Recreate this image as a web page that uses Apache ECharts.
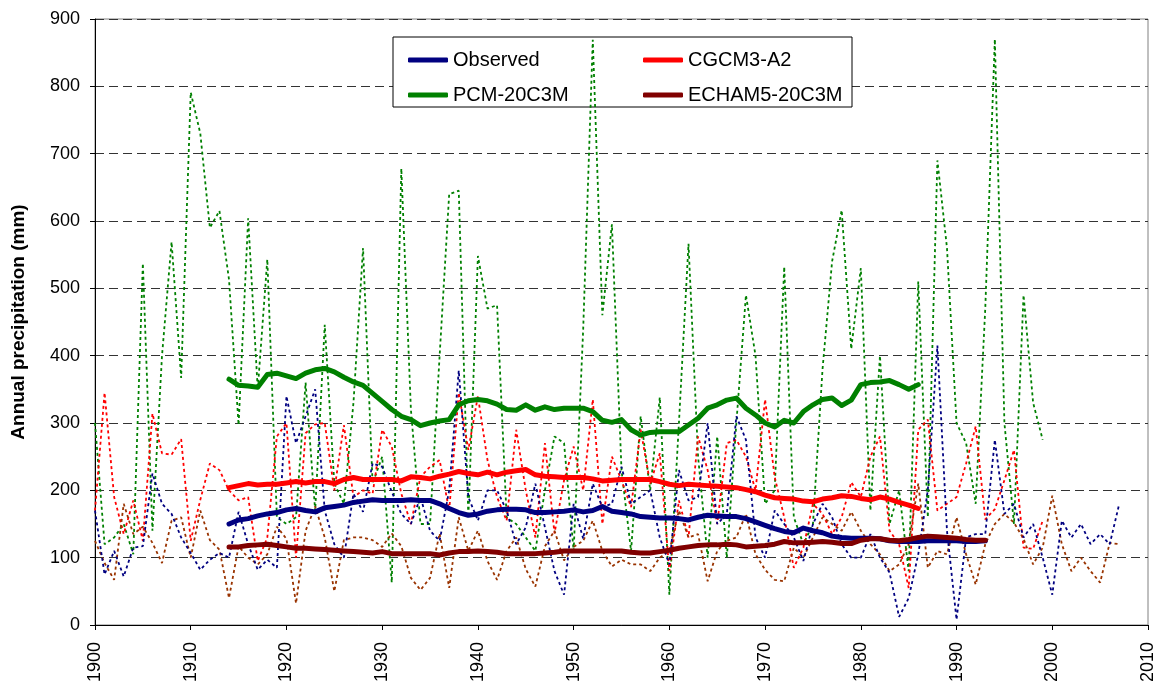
<!DOCTYPE html>
<html>
<head>
<meta charset="utf-8">
<script src="https://cdn.jsdelivr.net/npm/echarts@6/dist/echarts.min.js"></script>
<style>
  html, body { margin: 0; padding: 0; background: #fff; }
  #chart { width: 1163px; height: 693px; }
</style>
</head>
<body>
<div id="chart"></div>
<script>
// annual values, first year 1900
var annualStart = 1900;
var obsAnnual = [
  170, 75, 110, 72, 115, 117, 225, 180, 165, 130,
  107, 82, 97, 107, 100, 168, 120, 82, 97, 85,
  340, 270, 310, 350, 170, 120, 100, 195, 168, 240,
  235, 198, 165, 150, 190, 140, 125, 200, 378, 190,
  155, 200, 200, 170, 120, 145, 210, 145, 80, 45,
  180, 128, 210, 175, 180, 235, 180, 190, 200, 130,
  90, 230, 185, 190, 300, 150, 165, 310, 275, 130,
  100, 170, 150, 130, 95, 150, 180, 160, 120, 100,
  100, 135, 100, 78, 12, 40, 105, 200, 415, 140,
  8, 130, 135, 135, 275, 165, 180, 130, 150, 100,
  45, 155, 130, 150, 120, 135, 120, 180
];
var cgcmAnnual = [
  170, 345, 190, 135, 185, 125, 314, 255, 253, 276,
  125, 186, 240, 230, 200, 185, 190, 95, 130, 280,
  300, 100, 285, 298, 300, 200, 297, 190, 200, 195,
  290, 265, 195, 150, 220, 235, 245, 170, 345, 260,
  340, 245, 190, 155, 290, 200, 130, 270, 136, 215,
  265, 200, 335, 150, 250, 215, 175, 290, 210, 255,
  80, 185, 130, 280, 230, 150, 270, 275, 250, 200,
  335, 220, 160, 85, 115, 180, 165, 135, 160, 212,
  190, 250, 280, 140, 120, 55, 290, 305, 170, 180,
  190, 240, 295, 157, 172, 215, 260, 115, 113, 155
];
var pcmAnnual = [
  300, 120, 130, 150, 105, 537, 140, 400, 569, 367,
  791, 730, 590, 615, 513, 297, 604, 350, 543, 160,
  150, 160, 360, 170, 446, 210, 180, 330, 560, 210,
  250, 63, 678, 320, 150, 150, 400, 640, 645, 160,
  548, 470, 475, 160, 150, 130, 110, 200, 280, 270,
  110, 440, 869, 460, 595, 230, 110, 310, 200, 338,
  45, 300, 566, 250, 100, 280, 100, 300, 490, 400,
  180, 200, 532, 160, 120, 150, 380, 540, 616, 410,
  530, 170, 400, 150, 200, 80, 510, 160, 690, 560,
  300, 270, 180, 470, 870, 300, 150, 490, 330, 275
];
var echamAnnual = [
  125, 92, 67, 180, 135, 146, 122, 92, 155, 160,
  100, 170, 126, 112, 40, 117, 100, 90, 105, 146,
  128, 32, 140, 176, 130, 50, 126, 130, 130, 126,
  116, 136, 117, 70, 52, 70, 136, 55, 160, 110,
  140, 95, 67, 110, 130, 83, 57, 117, 140, 96,
  116, 125, 155, 110, 87, 97, 90, 90, 80, 100,
  110, 170, 130, 135, 65, 110, 125, 130, 165, 105,
  82, 67, 65, 115, 100, 130, 160, 150, 140, 168,
  140, 120, 105, 80, 90, 120, 210, 85, 110, 105,
  160, 105, 60, 120, 150, 165, 152, 128, 90, 115,
  192, 120, 80, 100, 80, 63, 122, 120
];

// smoothed curves, first year 1914
var smoothStart = 1914;
var obsSmooth = [
  150, 156, 158, 162, 165, 167, 171, 173, 170, 168,
  174, 176, 178, 182, 184, 186, 185, 185, 185, 186,
  185, 185, 180, 173, 167, 163, 165, 169, 171, 172,
  172, 171, 167, 167, 168, 169, 171, 168, 170, 176,
  169, 167, 165, 161, 160, 159, 159, 158, 156, 160,
  163, 162, 161, 161, 158, 153, 148, 143, 139, 137,
  144, 140, 137, 132, 130, 129, 129, 129, 128, 125,
  124, 124, 124, 125, 125, 125, 125, 124, 124, 125
];
var cgcmSmooth = [
  204, 207, 210, 208, 209, 209, 211, 213, 211, 213,
  213, 210, 216, 219, 216, 216, 216, 216, 214, 220,
  219, 217, 221, 224, 228, 225, 223, 227, 223, 227,
  229, 231, 223, 221, 220, 219, 219, 219, 217, 214,
  215, 216, 216, 216, 216, 213, 209, 207, 209, 208,
  207, 206, 205, 204, 201, 198, 193, 189, 188, 187,
  184, 183, 187, 189, 192, 191, 188, 186, 190, 187,
  182, 178, 173
];
var pcmSmooth = [
  365, 356, 355, 353, 372, 374, 370, 366, 374, 379,
  381, 376, 368, 361, 356, 344, 332, 320, 310, 305,
  296, 300, 303, 305, 327, 333, 335, 333, 328, 320,
  319, 327, 319, 324, 320, 322, 322, 322, 317, 304,
  301, 305, 290, 282, 286, 287, 287, 287, 297, 307,
  322, 327, 334, 337, 322, 312, 300, 294, 304, 300,
  317, 327, 335, 337, 326, 334, 357, 360, 361, 363,
  357, 350, 357
];
var echamSmooth = [
  116, 116, 118, 119, 120, 118, 116, 114, 114, 113,
  112, 111, 110, 109, 108, 107, 109, 106, 106, 106,
  106, 106, 104, 107, 109, 109, 110, 109, 108, 106,
  106, 106, 106, 107, 108, 110, 110, 110, 110, 110,
  110, 110, 108, 107, 107, 109, 111, 114, 116, 118,
  119, 119, 120, 119, 116, 117, 118, 120, 124, 122,
  122, 123, 124, 123, 121, 121, 126, 128, 128, 126,
  125, 127, 130, 132, 131, 130, 129, 127, 126, 126
];

var font = "'Liberation Sans', Arial, sans-serif";

function pairs(start, vals) {
  return vals.map(function (v, i) { return [start + i, v]; });
}

function thin(name, color, start, vals) {
  return {
    name: name,
    type: "line",
    data: pairs(start, vals),
    showSymbol: false,
    symbol: "none",
    z: 2,
    lineStyle: { color: color, width: 1.8, type: [3, 3] },
    itemStyle: { color: color },
  };
}

function thick(name, color, start, vals) {
  return {
    name: name,
    type: "line",
    data: pairs(start, vals),
    showSymbol: false,
    symbol: "none",
    z: 3,
    lineStyle: { color: color, width: 5, cap: "round", join: "round" },
    itemStyle: { color: color },
  };
}

var chart = echarts.init(document.getElementById("chart"));

var legendBase = {
  orient: "vertical",
  top: 45,
  itemWidth: 40,
  itemHeight: 5,
  itemGap: 15,
  icon: "roundRect",
  textStyle: { fontFamily: font, fontSize: 20, color: "#000", lineHeight: 20 },
};

chart.setOption({
  animation: false,
  backgroundColor: "#fff",
  grid: {
    left: 95,
    right: 15,
    top: 19,
    bottom: 68,
    outerBoundsMode: "none",
    containLabel: false,
    show: true,
    borderColor: "#808080",
    borderWidth: 1,
  },
  graphic: [
    {
      type: "rect",
      z: 1,
      shape: { x: 393, y: 37, width: 459, height: 70 },
      style: { fill: "#fff", stroke: "#000", lineWidth: 1 },
    },
  ],
  legend: [
    Object.assign({ left: 403, data: ["Observed", "PCM-20C3M"] }, legendBase),
    Object.assign({ left: 638, data: ["CGCM3-A2", "ECHAM5-20C3M"] }, legendBase),
  ],
  xAxis: {
    type: "value",
    min: 1900,
    max: 2010,
    interval: 10,
    axisLine: { lineStyle: { color: "#000", width: 1 } },
    axisTick: { show: true, length: 5, lineStyle: { color: "#000" } },
    axisLabel: {
      rotate: 90,
      fontFamily: font,
      fontSize: 18,
      color: "#000",
      margin: 17,
      formatter: function (v) { return String(v); },
    },
    splitLine: { show: false },
  },
  yAxis: {
    type: "value",
    min: 0,
    max: 900,
    interval: 100,
    name: "Annual precipitation (mm)",
    nameLocation: "middle",
    nameGap: 67,
    nameTextStyle: { fontFamily: font, fontSize: 19, fontWeight: "bold", color: "#000" },
    axisLine: { show: true, lineStyle: { color: "#000", width: 1 } },
    axisTick: { show: true, length: 5, lineStyle: { color: "#000" } },
    axisLabel: { fontFamily: font, fontSize: 18, color: "#000", margin: 15 },
    splitLine: { show: true, lineStyle: { color: "#333", width: 1, type: [9, 5] } },
  },
  series: [
    thin("PCM-20C3M annual", "#008000", annualStart, pcmAnnual),
    thin("CGCM3-A2 annual", "#ff0000", annualStart, cgcmAnnual),
    thin("ECHAM5-20C3M annual", "#993300", annualStart, echamAnnual),
    thin("Observed annual", "#000080", annualStart, obsAnnual),
    thick("Observed", "#000080", smoothStart, obsSmooth),
    thick("CGCM3-A2", "#ff0000", smoothStart, cgcmSmooth),
    thick("PCM-20C3M", "#008000", smoothStart, pcmSmooth),
    thick("ECHAM5-20C3M", "#800000", smoothStart, echamSmooth),
  ],
});
</script>
</body>
</html>
